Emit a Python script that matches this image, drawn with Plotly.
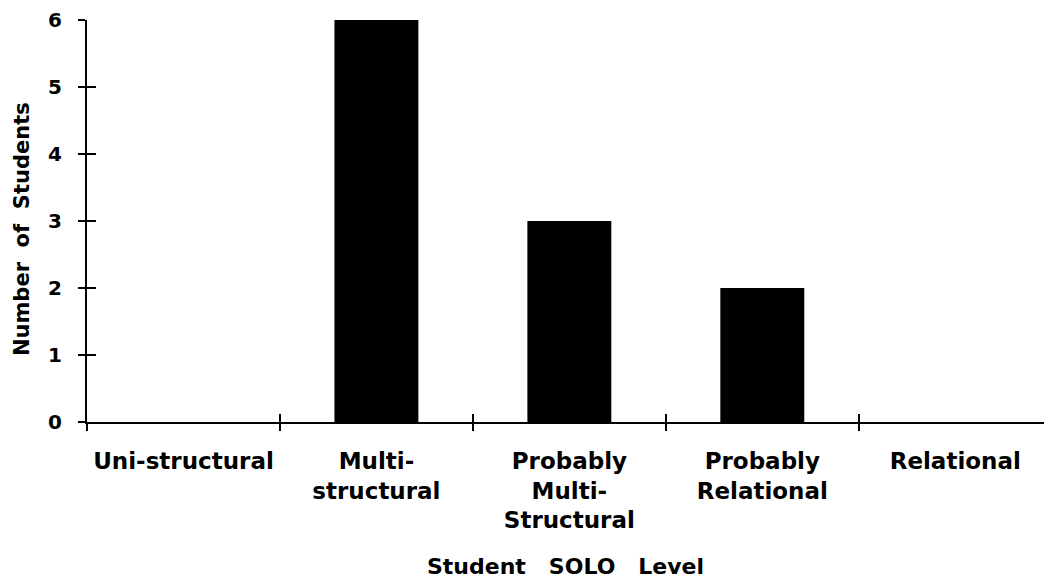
import plotly.graph_objects as go

categories = ["Uni-structural", "Multi-<br>structural", "Probably<br>Multi-<br>Structural",
              "Probably<br>Relational", "Relational"]
students = [0, 6, 3, 2, 0]
y_ticks = [0, 1, 2, 3, 4, 5, 6]
boundaries = [-0.5, 0.5, 1.5, 2.5, 3.5]

FONT = "DejaVu Sans"
NB = "\u00a0"
X_RANGE = [-0.5, 4.46]

fig = go.Figure()
fig.add_trace(go.Bar(x=categories, y=students, marker=dict(color="black", line=dict(width=0)),
                     width=0.435, hoverinfo="skip"))
# helper invisible traces so overlay axes (tick crossings) are drawn
fig.add_trace(go.Scatter(x=[0], y=[0], xaxis="x2", yaxis="y2", mode="markers",
                         marker=dict(opacity=0), hoverinfo="skip", showlegend=False))
fig.add_trace(go.Scatter(x=[0], y=[0], xaxis="x3", yaxis="y", mode="markers",
                         marker=dict(opacity=0), hoverinfo="skip", showlegend=False))

fig.update_layout(
    width=1036, height=570,
    margin=dict(l=79, r=0, t=8, b=156),
    paper_bgcolor="white", plot_bgcolor="white",
    showlegend=False,
    font=dict(family=FONT, color="black"),
    xaxis=dict(type="category", categoryarray=categories, range=X_RANGE,
               showline=True, linecolor="black", linewidth=2, ticks="",
               showgrid=False, zeroline=False,
               tickfont=dict(family=FONT, size=23, color="black", weight="bold"),
               ticklabelstandoff=17, ticklabeloverflow="allow"),
    xaxis2=dict(overlaying="x", anchor="y", side="bottom", range=X_RANGE,
                tickmode="array", tickvals=boundaries, ticks="outside", ticklen=8,
                tickwidth=2, tickcolor="black", showticklabels=False,
                showgrid=False, zeroline=False, showline=False),
    xaxis3=dict(overlaying="x", anchor="y", side="bottom", range=X_RANGE,
                tickmode="array", tickvals=boundaries, ticks="inside", ticklen=8,
                tickwidth=2, tickcolor="black", showticklabels=False,
                showgrid=False, zeroline=False, showline=False),
    yaxis=dict(range=[0, 6], tickmode="array", tickvals=y_ticks,
               showline=True, linecolor="black", linewidth=2,
               ticks="outside", ticklen=7, tickwidth=2, tickcolor="black",
               showgrid=False, zeroline=False,
               tickfont=dict(family=FONT, size=20, color="black", weight="bold"),
               ticklabelstandoff=12, ticklabeloverflow="allow"),
    yaxis2=dict(overlaying="y", anchor="x2", side="left", range=[0, 6],
                tickmode="array", tickvals=y_ticks, ticks="inside", ticklen=9,
                tickwidth=2, tickcolor="black", showticklabels=False,
                showgrid=False, zeroline=False, showline=False),
    annotations=[
        dict(text="<b>Student" + NB * 3 + "SOLO" + NB * 3 + "Level</b>",
             xref="paper", yref="paper", x=0.5, y=0, yshift=-144,
             xanchor="center", yanchor="middle", showarrow=False,
             font=dict(family=FONT, size=22, color="black")),
        dict(text="<b>Number" + NB * 2 + "of" + NB * 2 + "Students</b>",
             xref="paper", yref="paper", x=0, xshift=-65, y=0.48,
             xanchor="center", yanchor="middle", textangle=-90, showarrow=False,
             font=dict(family=FONT, size=21, color="black")),
    ],
)

fig.write_html("out.html")
